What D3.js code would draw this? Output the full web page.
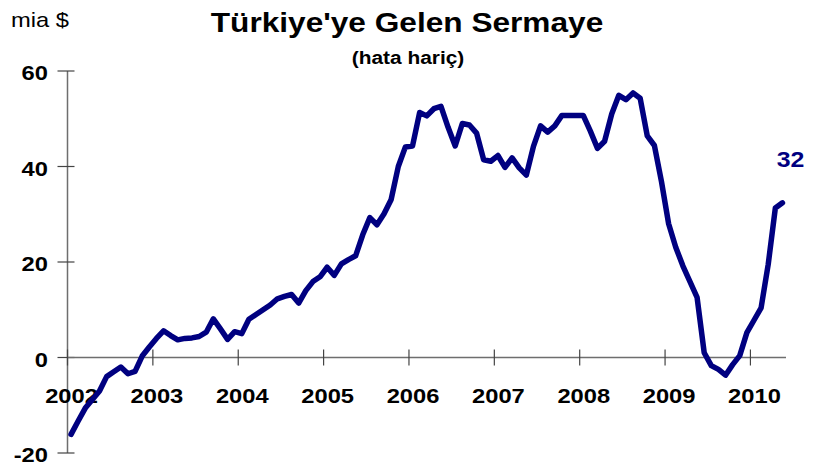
<!DOCTYPE html>
<html>
<head>
<meta charset="utf-8">
<script src="https://cdn.jsdelivr.net/npm/d3@7/dist/d3.min.js"></script>
<style>
  html, body { margin: 0; padding: 0; background: #fff; }
  svg { display: block; font-family: "Liberation Sans", Arial, sans-serif; }
</style>
</head>
<body>
<svg id="chart" width="818" height="468"></svg>
<script>
// ---- data ----
const startYear = 2002;
const yearLabels = ["2002","2003","2004","2005","2006","2007","2008","2009","2010"];
const yTicks = [60, 40, 20, 0, -20];
// monthly values, Jan 2002 .. May 2010 (billion $)
const values = [
  -16.1, -13.3, -10.6, -8.8, -7.0, -4.0, -3.0, -2.0, -3.4, -2.9, 0.3, 2.2,
  4.0, 5.6, 4.6, 3.7, 4.0, 4.1, 4.4, 5.3, 8.1, 6.0, 3.8, 5.4,
  5.0, 8.0, 9.0, 10.0, 11.0, 12.3, 12.8, 13.2, 11.4, 14.0, 15.9, 16.9,
  18.9, 17.2, 19.6, 20.5, 21.3, 25.7, 29.3, 27.8, 30.1, 33.1, 40.0, 44.1,
  44.3, 51.3, 50.6, 52.1, 52.6, 48.2, 44.3, 49.0, 48.7, 47.0, 41.4, 41.1,
  42.3, 39.8, 41.8, 39.7, 38.2, 44.2, 48.5, 47.2, 48.5, 50.7, 50.7, 50.7,
  50.7, 47.4, 43.8, 45.3, 51.0, 54.9, 54.0, 55.4, 54.3, 46.4, 44.4, 36.8,
  28.0, 23.1, 19.2, 15.9, 12.6, 1.0, -1.7, -2.5, -3.7, -1.5, 0.4, 5.2,
  7.8, 10.4, 19.5, 31.3, 32.4
];
const lastLabel = "32";
const unitLabel = "mia $";
const titleText = "Türkiye'ye Gelen Sermaye";
const subtitleText = "(hata hariç)";

// categories (months)
const months = values.map((v, i) => {
  const y = startYear + Math.floor(i / 12);
  const m = (i % 12) + 1;
  return y + "-" + String(m).padStart(2, "0");
});
const data = months.map((m, i) => ({ m, v: values[i] }));

// ---- layout ----
const svg = d3.select("#chart");
const x = d3.scaleBand().domain(months).range([67.5, 786]).padding(0);
const y = d3.scaleLinear().domain([-20, 60]).range([453, 71]);
const SX = 1.13; // horizontal stretch of text as in reference

function stretchedText(g, tx, ty, txt, anchor) {
  return g.append("text")
    .attr("transform", `translate(${tx},${ty}) scale(${SX},1)`)
    .attr("text-anchor", anchor || "middle")
    .text(txt);
}

// axes
const axisColor = "#6e6e6e";
// y axis line
svg.append("line")
  .attr("x1", x.range()[0]).attr("x2", x.range()[0])
  .attr("y1", y(60)).attr("y2", y(-20))
  .attr("stroke", axisColor).attr("stroke-width", 1.5);
// y ticks
svg.append("g").selectAll("line").data(yTicks).join("line")
  .attr("x1", x.range()[0] - 10).attr("x2", x.range()[0] + 7)
  .attr("y1", d => y(d)).attr("y2", d => y(d))
  .attr("stroke", "#444").attr("stroke-width", 1.2);
// y tick labels
const gy = svg.append("g")
  .style("font-size", "21px").style("font-weight", "bold").attr("fill", "#000");
yTicks.forEach(t => stretchedText(gy, 48, y(t) + 9, String(t), "end"));

// x axis line at 0
svg.append("line")
  .attr("x1", x.range()[0]).attr("x2", x.range()[1])
  .attr("y1", y(0)).attr("y2", y(0))
  .attr("stroke", axisColor).attr("stroke-width", 1.5);
// x ticks every 12 months
const yearStarts = months.filter((m, i) => i % 12 === 0);
svg.append("g").selectAll("line").data(yearStarts).join("line")
  .attr("x1", d => x(d)).attr("x2", d => x(d))
  .attr("y1", y(0) - 8).attr("y2", y(0) + 8)
  .attr("stroke", "#444").attr("stroke-width", 1.2);
// year labels
const gx = svg.append("g")
  .style("font-size", "21px").style("font-weight", "bold").attr("fill", "#000");
yearStarts.forEach((m, k) => stretchedText(gx, x(m) + x.bandwidth() / 2 + 0.5, 403, yearLabels[k], "middle"));

// line
const line = d3.line()
  .x(d => x(d.m) + x.bandwidth() / 2)
  .y(d => y(d.v));
svg.append("path").datum(data)
  .attr("d", line)
  .attr("fill", "none")
  .attr("stroke", "#000080")
  .attr("stroke-width", 5.5)
  .attr("stroke-linejoin", "round")
  .attr("stroke-linecap", "round");

// last value label
const last = data[data.length - 1];
const gl = svg.append("g")
  .style("font-size", "22px").style("font-weight", "bold").attr("fill", "#000080");
stretchedText(gl, x(last.m) + x.bandwidth() / 2 + 8, y(last.v) - 36, lastLabel, "middle");

// titles
const gt = svg.append("g").attr("fill", "#000");
stretchedText(gt, 407, 32, titleText, "middle")
  .style("font-size", "28px").style("font-weight", "bold");
stretchedText(gt, 408, 64, subtitleText, "middle")
  .style("font-size", "18.5px").style("font-weight", "bold");
stretchedText(gt, 11, 27, unitLabel, "start")
  .style("font-size", "21px");
</script>
</body>
</html>
